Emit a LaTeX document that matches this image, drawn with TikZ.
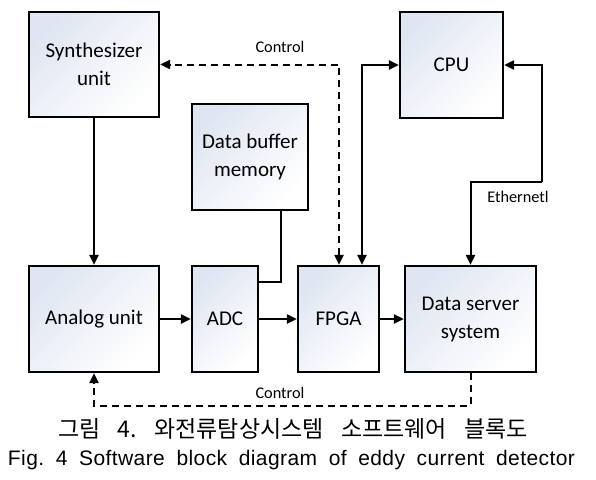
\documentclass[tikz,border=0pt]{standalone}
\usepackage{fontspec}
\setmainfont{Liberation Sans}
\newfontfamily\boxfont{Carlito}
\newfontfamily\krfont{Noto Sans CJK KR}
\newfontfamily\capfont[LetterSpace=2]{Liberation Sans}
\usetikzlibrary{arrows.meta,calc}
\definecolor{shadeblue}{HTML}{DFE6F2}
\frenchspacing
\begin{document}
\begin{tikzpicture}[x=1pt,y=-1pt,
  blk/.style={draw=black, line width=2.2pt, left color=shadeblue, right color=white, shading angle=45,
    rectangle, align=center, inner sep=0pt, font=\boxfont\fontsize{21}{28}\selectfont},
  conn/.style={line width=2pt, draw=black},
  tip/.style={-{Triangle[length=10pt,width=9pt]}},
  dtip/.style={{Triangle[length=10pt,width=9pt]}-{Triangle[length=10pt,width=9pt]}},
  dashline/.style={dash pattern=on 7pt off 5pt},
  lbl/.style={font=\boxfont\fontsize{16.3}{18}\selectfont, inner sep=0pt}]
\useasboundingbox (0,0) rectangle (596,479);
\fill[white] (0,0) rectangle (596,479);

\node[blk, minimum width=130pt, minimum height=105pt] (synth) at (94,64.5) {Synthesizer\\unit};
\node[blk, minimum width=116pt, minimum height=106pt] (buffer) at (250,157) {Data buffer\\memory};
\node[blk, minimum width=103pt, minimum height=106pt] (cpu) at (451.5,65) {CPU};
\node[blk, minimum width=130pt, minimum height=106pt] (analog) at (94,319) {Analog unit};
\node[blk, minimum width=66pt, minimum height=106pt] (adc) at (225,319) {ADC};
\node[blk, minimum width=81pt, minimum height=106pt] (fpga) at (338.5,319) {FPGA};
\node[blk, minimum width=131pt, minimum height=106pt] (server) at (470.5,319) {Data server\\system};

\coordinate (b1) at ($(buffer.south east)+(-28,0)$);
\coordinate (b2) at ($(adc.north east)+(0,17)$);
\coordinate (f1) at ($(fpga.north)+(0.5,0)$);
\coordinate (f2) at ($(fpga.north)+(23.5,0)$);
\coordinate (e1) at (542,182);
\coordinate (cb) at (94,406);

\draw[conn,tip] (synth.south) -- (analog.north);
\draw[conn] (b1) |- (b2);
\draw[conn,tip] (analog.east) -- (adc.west);
\draw[conn,tip] (adc.east) -- (fpga.west);
\draw[conn,tip] (fpga.east) -- (server.west);
\draw[conn,dtip,dashline] (f1) |- (synth.east);
\draw[conn,dtip] (f2) |- (cpu.west);
\draw[conn,tip] (e1) |- (cpu.east);
\draw[conn,tip] (e1) -| (server.north);
\draw[conn,tip,dashline] (server.south) |- (cb) -- (analog.south);

\node[lbl] (ctop) at (280,47) {Control};
\node[lbl] (cbot) at (280,393) {Control};
\node[lbl] (eth) at (518,197) {Ethernetl};

\node[anchor=base, inner sep=0pt, font=\krfont\fontsize{23}{26}\selectfont] (cap1) at (293,437)
  {\makebox[470pt][s]{그림 4. 와전류탐상시스템 소프트웨어 블록도}};
\node[anchor=base, inner sep=0pt, font=\capfont\fontsize{21}{24}\selectfont] (cap2) at (291.5,465)
  {\makebox[567pt][s]{Fig. 4 Software block diagram of eddy current detector}};
\end{tikzpicture}
\end{document}
